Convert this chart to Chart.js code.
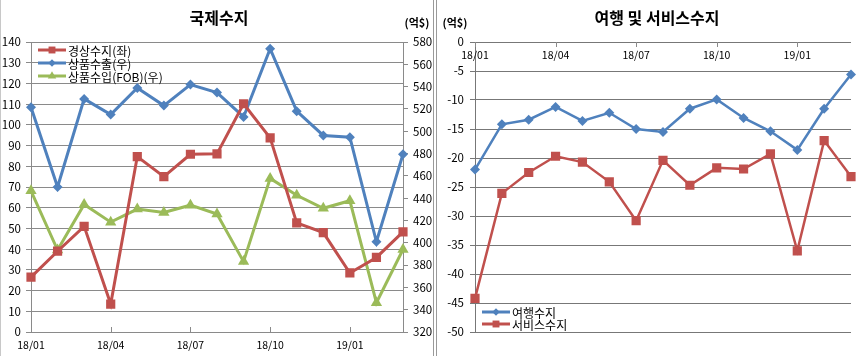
<!DOCTYPE html>
<html><head><meta charset="utf-8">
<script src="https://cdn.jsdelivr.net/npm/chart.js@4/dist/chart.umd.min.js"></script>
<style>
html,body{margin:0;padding:0;background:#fff;width:867px;height:356px;overflow:hidden;}
#c1{position:absolute;left:0;top:0;}
#w2{position:absolute;left:437px;top:0;width:430px;height:356px;}
.vl{position:absolute;top:0;height:356px;width:1px;background:#9a9a9a;}
</style></head><body>
<div class="vl" style="left:0px;background:#c8c8c8"></div>
<div class="vl" style="left:433px"></div>
<div class="vl" style="left:436px"></div>
<canvas id="c1" width="432" height="356"></canvas>
<div id="w2"><canvas id="c2" width="430" height="356"></canvas></div>
<script>
const months = ['18/01','18/02','18/03','18/04','18/05','18/06','18/07','18/08','18/09','18/10','18/11','18/12','19/01','19/02','19/03'];
const currentAccount = [26.5, 39, 51, 13.5, 84.7, 75, 85.8, 86, 110.2, 93.7, 52.7, 48, 28.5, 36, 48.3];
const goodsExports = [521.5, 450, 529, 515, 538.8, 523, 541.8, 534.7, 512.8, 574, 518, 496.2, 494.7, 400.9, 479.4];
const goodsImports = [446.6, 393.5, 434.4, 418.5, 430.2, 427.2, 433.7, 425.7, 383.1, 457.7, 442.6, 430.9, 437.7, 346.3, 394];
const travelBalance = [-22, -14.2, -13.4, -11.2, -13.6, -12.2, -15, -15.5, -11.5, -9.9, -13.1, -15.4, -18.6, -11.5, -5.6];
const servicesBalance = [-44.2, -26.1, -22.5, -19.7, -20.7, -24.1, -30.8, -20.4, -24.7, -21.7, -21.9, -19.3, -36, -17, -23.2];

const RED = '#C0504D', BLUE = '#4F81BD', GREEN = '#9BBB59', GRID = '#8a8a8a', GRID2 = '#777777';
const FONT = "'Noto Sans CJK KR', 'Noto Sans', sans-serif";
const XFONT = '10.5px ' + FONT;

function drawMarker(ctx, style, x, y, r, color) {
  ctx.save();
  ctx.fillStyle = color;
  ctx.beginPath();
  if (style === 'rect') { const s = r * Math.SQRT1_2; ctx.rect(x - s, y - s, 2 * s, 2 * s); }
  else if (style === 'rectRot') { ctx.moveTo(x, y - r); ctx.lineTo(x + r, y); ctx.lineTo(x, y + r); ctx.lineTo(x - r, y); ctx.closePath(); }
  else if (style === 'triangle') { ctx.moveTo(x, y - r); ctx.lineTo(x + r * 0.87, y + r * 0.5); ctx.lineTo(x - r * 0.87, y + r * 0.5); ctx.closePath(); }
  ctx.fill();
  ctx.restore();
}

function overlay(o) {
  return {
    id: 'overlay',
    afterDraw(chart) {
      const ctx = chart.ctx;
      const xs = chart.scales.x, ys = chart.scales.y;
      ctx.save();
      const baseY = o.axisAtZero ? Math.round(ys.getPixelForValue(0)) : Math.round(chart.chartArea.bottom);
      ctx.fillStyle = GRID;
      chart.data.labels.forEach((lab, i) => {
        if (i % 3 !== 0) return;
        const px = Math.round(xs.getPixelForValue(i));
        if (o.axisAtZero) ctx.fillRect(px, baseY, 1, 5);
        else ctx.fillRect(px, baseY - 5, 1, 5);
      });
      ctx.font = XFONT; ctx.fillStyle = '#000'; ctx.textAlign = 'center'; ctx.textBaseline = 'middle';
      chart.data.labels.forEach((lab, i) => {
        if (i % 3 !== 0) return;
        ctx.fillText(lab, xs.getPixelForValue(i), baseY + 13);
      });
      ctx.font = 'bold 16px ' + FONT;
      ctx.fillText(o.title, o.titleX, 18);
      ctx.font = 'bold 11px ' + FONT;
      ctx.fillText('(억$)', o.unitX, 23);
      ctx.font = '12px ' + FONT;
      ctx.textAlign = 'left';
      chart.data.datasets.forEach((ds, i) => {
        const y = o.legendY + i * o.legendGap;
        ctx.strokeStyle = ds.borderColor;
        ctx.lineWidth = o.lineW;
        ctx.beginPath(); ctx.moveTo(o.legendX, y); ctx.lineTo(o.legendX + 28, y); ctx.stroke();
        drawMarker(ctx, ds.pointStyle, o.legendX + 14, y, ds.pointRadius * 0.75, ds.borderColor);
        ctx.fillStyle = '#000';
        ctx.fillText(ds.label, o.legendX + 30, y + 1);
      });
      ctx.restore();
    }
  };
}

new Chart(document.getElementById('c1'), {
  type: 'line',
  data: {
    labels: months,
    datasets: [
      { label: '경상수지(좌)', data: currentAccount, yAxisID: 'y', borderColor: RED, backgroundColor: RED, borderWidth: 3, pointStyle: 'rect', pointRadius: 6.5, pointBorderWidth: 0, tension: 0 },
      { label: '상품수출(우)', data: goodsExports, yAxisID: 'y1', borderColor: BLUE, backgroundColor: BLUE, borderWidth: 3, pointStyle: 'rectRot', pointRadius: 5, pointBorderWidth: 0, tension: 0 },
      { label: '상품수입(FOB)(우)', data: goodsImports, yAxisID: 'y1', borderColor: GREEN, backgroundColor: GREEN, borderWidth: 3, pointStyle: 'triangle', pointRadius: 6.5, pointBorderWidth: 0, tension: 0 }
    ]
  },
  options: {
    responsive: false, animation: false,
    layout: { padding: { top: 42, left: 0, right: 0, bottom: 24 } },
    plugins: { legend: { display: false }, title: { display: false }, tooltip: { enabled: false } },
    scales: {
      x: { display: false, offset: false },
      y: {
        position: 'left', min: 0, max: 140,
        grid: { color: GRID, tickLength: 5 },
        border: { display: true, color: GRID },
        ticks: { stepSize: 10, padding: 5, color: '#000', font: { family: FONT, size: 11.5 } },
        afterFit: s => { s.width = 31; }
      },
      y1: {
        position: 'right', min: 320, max: 580,
        grid: { drawOnChartArea: false, color: GRID, tickLength: 5 },
        border: { display: true, color: GRID },
        ticks: { stepSize: 20, padding: 5, color: '#000', font: { family: FONT, size: 11.5 } },
        afterFit: s => { s.width = 29; }
      }
    }
  },
  plugins: [overlay({ title: '국제수지', titleX: 219, unitX: 417, legendX: 38, legendY: 50, legendGap: 13, lineW: 3, axisAtZero: false })]
});

new Chart(document.getElementById('c2'), {
  type: 'line',
  data: {
    labels: months,
    datasets: [
      { label: '여행수지', data: travelBalance, borderColor: BLUE, backgroundColor: BLUE, borderWidth: 2.5, pointStyle: 'rectRot', pointRadius: 5, pointBorderWidth: 0, tension: 0 },
      { label: '서비스수지', data: servicesBalance, borderColor: RED, backgroundColor: RED, borderWidth: 2.5, pointStyle: 'rect', pointRadius: 6.5, pointBorderWidth: 0, tension: 0 }
    ]
  },
  options: {
    responsive: false, animation: false,
    layout: { padding: { top: 42, left: 0, right: 16, bottom: 24 } },
    plugins: { legend: { display: false }, title: { display: false }, tooltip: { enabled: false } },
    scales: {
      x: { display: false, offset: false },
      y: {
        position: 'left', min: -50, max: 0,
        grid: { color: GRID2, lineWidth: 1, tickLength: 5 },
        border: { display: true, color: GRID2 },
        ticks: { stepSize: 5, padding: 6, color: '#000', font: { family: FONT, size: 11.5 } },
        afterFit: s => { s.width = 38; }
      }
    }
  },
  plugins: [overlay({ title: '여행 및 서비스수지', titleX: 220, unitX: 18, legendX: 45, legendY: 312, legendGap: 12, lineW: 3, axisAtZero: true })]
});
</script>
</body></html>
